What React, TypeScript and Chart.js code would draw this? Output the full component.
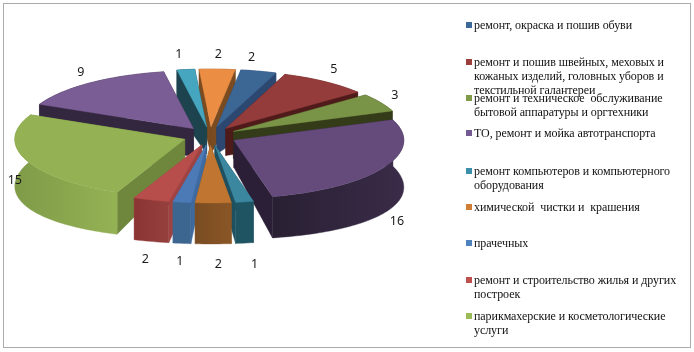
import React, { useEffect, useRef } from "react";
import { Chart, registerables } from "chart.js";

Chart.register(...registerables);

const values = [2, 5, 3, 16, 1, 2, 1, 2, 15, 9, 1, 2];

const legendLines: string[][] = [
  ["ремонт, окраска и пошив обуви"],
  ["ремонт и пошив швейных, меховых и", "кожаных изделий, головных уборов и", "текстильной галантереи"],
  ["ремонт и техническое  обслуживание", "бытовой аппаратуры и оргтехники"],
  ["ТО, ремонт и мойка автотранспорта"],
  ["ремонт компьютеров и компьютерного", "оборудования"],
  ["химической  чистки и  крашения"],
  ["прачечных"],
  ["ремонт и строительство жилья и других", "построек"],
  ["парикмахерские и косметологические", "услуги"],
];
const categories = legendLines.map((l) => l.join(" ")).concat(["", "", ""]);

const legendColors = ["#3C6898", "#9C3E3C", "#7F9A48", "#745A92", "#3C8FAB", "#D07E36", "#4F81BD", "#C0504D", "#9BBB59"];
const legendY = [25, 62, 98, 133, 171, 207, 243, 280, 316];

const topColors = ["#3C6693", "#943C3B", "#7A9447", "#644B7B", "#3A879F", "#C07631", "#4C7AB6", "#B84E4C", "#94B254", "#7B5D96", "#46A6BF", "#EB8E44"];
const cutColors = ["#2C4770", "#4F1A1A", "#343B18", "#2A1F36", "#1F5060", "#7F4E22", "#3F6AA0", "#9E4341", "#6F863D", "#33263F", "#1C434E", "#7A4A20"];
const wallStart = ["#2C4770", "#4F1A1A", "#343B18", "#3A2B48", "#1F5462", "#8A5626", "#3C6590", "#96403E", "#94B254", "#33263F", "#1C434E", "#7A4A20"];
const wallEnd = ["#2C4770", "#4F1A1A", "#343B18", "#292033", "#1F5462", "#7A4C22", "#3C6590", "#8A3534", "#7F9B48", "#33263F", "#1C434E", "#7A4A20"];
const labelShift: [number, number][] = [[-7, -14], [9, -12], [14, -7], [13, 54], [10, 63], [5, 61], [-2, 59], [-6, 60], [-11, 21], [-9, -10], [-7, -15], [1, -15]];

const TARGET_R = 170;
const TILT = 0.34;
const H0 = 27;

const pie3d = {
  id: "pie3d",
  beforeDatasetsDraw(chart: any) {
    const ctx: CanvasRenderingContext2D = chart.ctx;
    const arcs = chart.getDatasetMeta(0).data as any[];
    const slices = arcs.map((el, i) => {
      const p = el.getProps(["x", "y", "startAngle", "endAngle", "outerRadius"], true);
      const s = TARGET_R / p.outerRadius;
      const t0 = p.startAngle + Math.PI / 2;
      const t1 = p.endAngle + Math.PI / 2;
      const mid = (t0 + t1) / 2;
      const e = el.options.offset * s;
      const ax = p.x + e * Math.sin(mid);
      const ay = p.y - e * TILT * Math.cos(mid);
      const pt = (t: number, r: number) => ({ x: ax + r * TARGET_R * Math.sin(t), y: ay - r * TARGET_R * TILT * Math.cos(t) });
      const drop = (t: number, r: number) => H0 + (41 + 6 * Math.sin(t) ** 2 - H0) * r;
      return { i, t0, t1, mid, pt, drop };
    });
    const order = [...slices].sort((a, b) => Math.cos(b.mid) - Math.cos(a.mid));
    const poly = (pts: { x: number; y: number }[], fill: string | CanvasGradient) => {
      ctx.beginPath();
      pts.forEach((q, n) => (n ? ctx.lineTo(q.x, q.y) : ctx.moveTo(q.x, q.y)));
      ctx.closePath();
      ctx.fillStyle = fill;
      ctx.strokeStyle = fill;
      ctx.lineWidth = 0.4;
      ctx.fill();
      ctx.stroke();
    };
    ctx.save();
    for (const sl of order) {
      const { i, t0, t1, pt, drop } = sl;
      const n = Math.max(4, Math.ceil((t1 - t0) * 40));
      const rim: { x: number; y: number }[] = [];
      const rimLow: { x: number; y: number }[] = [];
      for (let k = 0; k <= n; k++) {
        const t = t0 + ((t1 - t0) * k) / n;
        const q = pt(t, 1);
        rim.push(q);
        rimLow.push({ x: q.x, y: q.y + drop(t, 1) });
      }
      const apex = pt(0, 0);
      const apexLow = { x: apex.x, y: apex.y + H0 };
      const cuts = [t0, t1].sort((a, b) => pt(a, 1).y - pt(b, 1).y);
      for (const t of cuts) {
        const q = pt(t, 1);
        poly([apex, q, { x: q.x, y: q.y + drop(t, 1) }, apexLow], cutColors[i]);
      }
      const xs = rim.map((q) => q.x);
      const g = ctx.createLinearGradient(Math.min(...xs), 0, Math.max(...xs), 0);
      const leftFirst = rim[0].x < rim[n].x;
      g.addColorStop(0, leftFirst ? wallStart[i] : wallEnd[i]);
      g.addColorStop(1, leftFirst ? wallEnd[i] : wallStart[i]);
      poly([...rim, ...rimLow.slice().reverse()], g);
      poly([apex, ...rim], topColors[i]);
    }
    ctx.font = "12.5px 'Noto Sans'";
    ctx.fillStyle = "#1a1a1a";
    ctx.textAlign = "center";
    ctx.textBaseline = "middle";
    for (const sl of slices) {
      const q = sl.pt(sl.mid, 1);
      ctx.fillText(String(values[sl.i]), q.x + labelShift[sl.i][0], q.y + labelShift[sl.i][1]);
    }
    ctx.restore();
    return false;
  },
};

export default function App() {
  const ref = useRef<HTMLCanvasElement>(null);
  useEffect(() => {
    const chart = new Chart(ref.current as HTMLCanvasElement, {
      type: "pie",
      data: {
        labels: categories,
        datasets: [{ data: values, backgroundColor: topColors, offset: 20, borderWidth: 0 }],
      },
      options: {
        animation: false,
        responsive: false,
        rotation: 8.2,
        events: [],
        layout: { padding: { left: 0, right: 274, top: 0, bottom: 80 } },
        plugins: { legend: { display: false }, tooltip: { enabled: false } },
      },
      plugins: [pie3d as any],
    });
    return () => chart.destroy();
  }, []);

  return (
    <div style={{ position: "fixed", left: 0, top: 0, width: 694, height: 352, background: "#fff", overflow: "hidden" }}>
      <canvas ref={ref} width={694} height={352} style={{ position: "absolute", left: 0, top: 0, width: 694, height: 352 }} />
      <div style={{ position: "absolute", left: 3, top: 3, width: 686, height: 343, border: "1px solid #ababab" }} />
      {legendLines.map((lines, i) => (
        <React.Fragment key={i}>
          <div style={{ position: "absolute", left: 466, top: legendY[i] - 3, width: 6, height: 6, background: legendColors[i] }} />
          <div
            style={{
              position: "absolute",
              left: 474,
              top: legendY[i] - 7,
              font: "12px/14px 'Liberation Serif'",
              letterSpacing: "-0.07px",
              color: "#111",
              whiteSpace: "pre",
            }}
          >
            {lines.map((t, n) => (
              <div key={n}>{t}</div>
            ))}
          </div>
        </React.Fragment>
      ))}
    </div>
  );
}
